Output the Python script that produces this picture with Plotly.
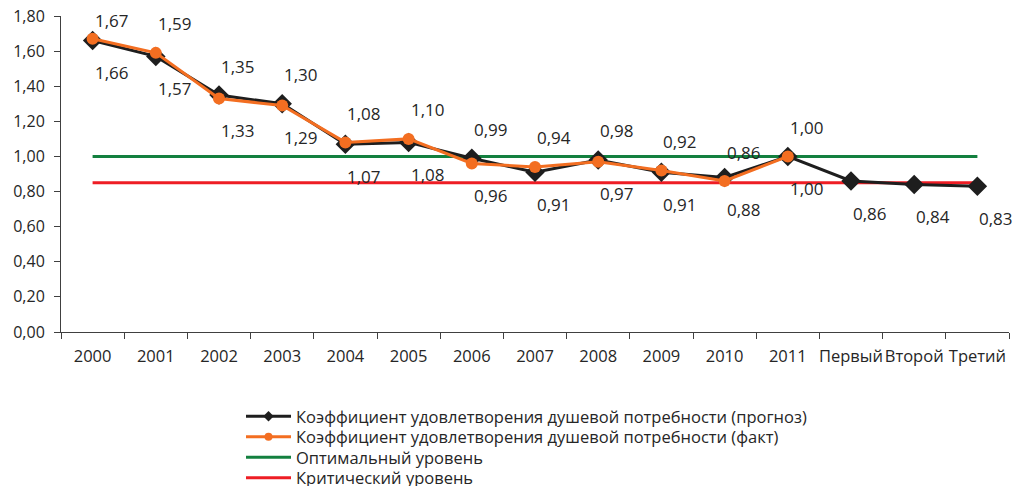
import plotly.graph_objects as go

categories = ["2000", "2001", "2002", "2003", "2004", "2005", "2006", "2007",
              "2008", "2009", "2010", "2011", "Первый", "Второй", "Третий"]
forecast = [1.66, 1.57, 1.35, 1.30, 1.07, 1.08, 0.99, 0.91, 0.98, 0.91, 0.88, 1.00, 0.86, 0.84, 0.83]
fact = [1.67, 1.59, 1.33, 1.29, 1.08, 1.10, 0.96, 0.94, 0.97, 0.92, 0.86, 1.00]
optimal = [1.00] * len(categories)
critical = [0.85] * len(categories)

forecast_pos = ["below", "below", "above", "above", "below", "below", "above", "below",
                "above", "below", "below", "below", "below", "below", "below"]
fact_pos = ["above", "above", "below", "below", "above", "above", "below", "above",
            "below", "above", "above", "above"]

names = ["Коэффициент удовлетворения душевой потребности (прогноз)",
         "Коэффициент удовлетворения душевой потребности (факт)",
         "Оптимальный уровень",
         "Критический уровень"]

FONT = "Open Sans"
TXT = "#262626"
BLACK = "#1E1E1E"
ORANGE = "#F36E21"
GREEN = "#13803F"
RED = "#EE1D24"

# the page body has an 8px margin, so the figure is 8px smaller than the window
W, H = 1013, 478

fig = go.Figure()
fig.add_trace(go.Scatter(x=categories, y=optimal, mode="lines", showlegend=False,
                         line=dict(color=GREEN, width=3)))
fig.add_trace(go.Scatter(x=categories, y=critical, mode="lines", showlegend=False,
                         line=dict(color=RED, width=3)))
fig.add_trace(go.Scatter(x=categories, y=forecast, mode="lines+markers", showlegend=False,
                         line=dict(color=BLACK, width=3),
                         marker=dict(symbol="diamond", size=15, color=BLACK)))
fig.add_trace(go.Scatter(x=categories[:len(fact)], y=fact, mode="lines+markers", showlegend=False,
                         line=dict(color=ORANGE, width=3),
                         marker=dict(symbol="circle", size=12, color=ORANGE)))

# legend entries (small markers, as in the reference legend), one legend per row
legend_ids = ["legend", "legend2", "legend3", "legend4"]
fig.add_trace(go.Scatter(x=[None], y=[None], mode="lines+markers", name=names[0],
                         legend=legend_ids[0], line=dict(color=BLACK, width=3),
                         marker=dict(symbol="diamond", size=8, color=BLACK)))
fig.add_trace(go.Scatter(x=[None], y=[None], mode="lines+markers", name=names[1],
                         legend=legend_ids[1], line=dict(color=ORANGE, width=3),
                         marker=dict(symbol="circle", size=8, color=ORANGE)))
fig.add_trace(go.Scatter(x=[None], y=[None], mode="lines", name=names[2],
                         legend=legend_ids[2], line=dict(color=GREEN, width=3)))
fig.add_trace(go.Scatter(x=[None], y=[None], mode="lines", name=names[3],
                         legend=legend_ids[3], line=dict(color=RED, width=3)))

def fmt(v):
    return f"{v:.2f}".replace(".", ",")

annotations = []
for series, pos in ((forecast, forecast_pos), (fact, fact_pos)):
    for i, (v, p) in enumerate(zip(series, pos)):
        if p == "above":
            ys = 18 if v > 1.6 else 29
        else:
            ys = -32
        annotations.append(dict(x=i, y=v, xref="x", yref="y", text=fmt(v), showarrow=False,
                                xshift=19, yshift=ys,
                                font=dict(family=FONT, size=17, color=TXT)))

row_y = [408.5, 429, 449.5, 470]  # row centres in figure pixels
legends = {}
for lid, ry in zip(legend_ids, row_y):
    legends[lid] = dict(xref="container", yref="container", x=233 / W, xanchor="left",
                        y=1 - ry / H, yanchor="middle",
                        font=dict(family=FONT, size=16.5, color=TXT),
                        itemwidth=45, bgcolor="rgba(0,0,0,0)")

fig.update_layout(
    width=W, height=H,
    margin=dict(l=53, r=12, t=8, b=154, autoexpand=False),
    plot_bgcolor="white", paper_bgcolor="white",
    separators=", ",
    font=dict(family=FONT, size=16, color=TXT),
    annotations=annotations,
    showlegend=True,
    xaxis=dict(type="category", showline=True, linecolor="#404040", linewidth=1,
               ticks="outside", ticklen=6, tickcolor="#404040", tickson="boundaries",
               showgrid=False, zeroline=False, range=[-0.5, len(categories) - 0.5],
               tickangle=0, automargin=False, ticklabelstandoff=9,
               ticklabeloverflow="allow",
               tickfont=dict(family=FONT, size=16.5, color=TXT)),
    yaxis=dict(range=[0, 1.8], dtick=0.2, tickformat=".2f", showline=True,
               linecolor="#404040", linewidth=1, ticks="outside", ticklen=6,
               tickcolor="#404040", showgrid=False, zeroline=False, automargin=False,
               ticklabelstandoff=6, ticklabeloverflow="allow",
               tickfont=dict(family=FONT, size=16, color=TXT)),
    **legends,
)

fig.write_html("out.html")
